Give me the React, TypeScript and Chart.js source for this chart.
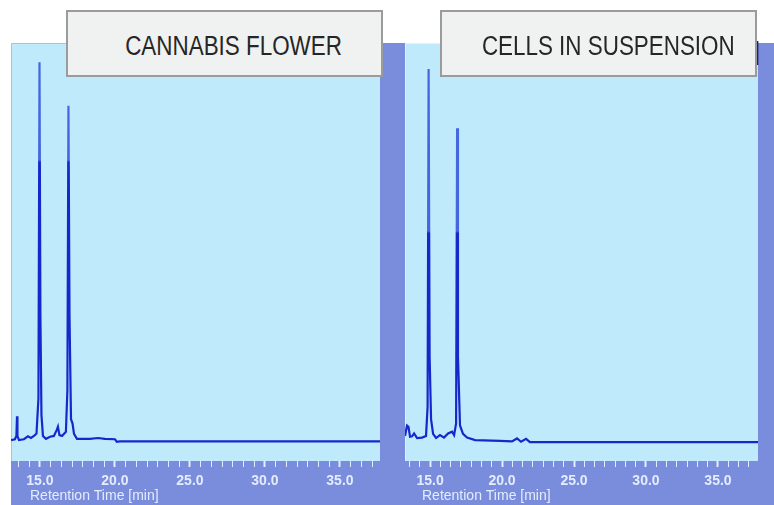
import React, { useEffect, useRef } from "react";
import { Chart, registerables } from "chart.js";
Chart.register(...registerables);

// ---- data (retention time in min, detector signal in arbitrary units) ----
const flowerTimes = [13.07, 13.33, 13.43, 13.47, 13.5, 13.6, 13.93, 14.2, 14.4, 14.6, 14.77, 14.9, 14.97, 15.03, 15.1, 15.2, 15.4, 15.67, 15.93, 16.13, 16.2, 16.3, 16.47, 16.73, 16.83, 16.9, 16.97, 17.07, 17.17, 17.27, 17.47, 18.33, 18.87, 19.33, 20.0, 20.13, 20.33, 37.67];
const flowerSignal = [0, 0.2, 1, 5.7, 1, 0, 0.2, 0.9, 0.5, 1.0, 1.6, 10, 90.4, 30, 6, 1, 0.3, 0.8, 1.0, 2.5, 3.2, 1.2, 1.0, 2, 12, 80, 30, 5, 4, 1.5, 0.3, 0.3, 0.5, 0.3, 0.2, -0.4, -0.3, -0.3];

const cellsTimes = [13.26, 13.4, 13.5, 13.61, 13.75, 13.89, 14.1, 14.44, 14.72, 14.83, 14.9, 14.97, 15.07, 15.21, 15.42, 15.69, 15.97, 16.25, 16.53, 16.67, 16.81, 16.88, 16.94, 17.08, 17.29, 17.57, 18.13, 19.86, 20.69, 21.04, 21.32, 21.67, 21.94, 37.78];
const cellsSignal = [1.0, 3.5, 3.2, 0.8, 0.9, 1.6, 0.5, 0.6, 1.0, 8, 88.8, 20, 5, 1.5, 0.5, 1.2, 0.6, 1.6, 2.0, 1.2, 4, 74.6, 20, 3.5, 1.5, 0.6, 0, -0.2, -0.3, 0.4, -0.4, 0.3, -0.5, -0.5];

const xTickValues = [15, 20, 25, 30, 35];
const xTickLabels = ["15.0", "20.0", "25.0", "30.0", "35.0"];
const minorPerMajor = 6;
const panelTitles = ["CANNABIS FLOWER", "CELLS IN SUSPENSION"];
const axisTitle = "Retention Time [min]";

const BAND = "#7a8ddc";
const PLOT = "#bfeafb";
const LINE = "#1428cc";
const LINE_TOP = "#4466e0";
const LABEL = "#e4ecff";

function buildTicks(min: number, max: number) {
  const step = (xTickValues[1] - xTickValues[0]) / (minorPerMajor + 1);
  const start = xTickValues[0];
  const n = minorPerMajor + 1;
  const ticks: any[] = [];
  for (let k = Math.ceil((min - start) / step - 1e-9); start + k * step <= max + 1e-9; k++) {
    const v = start + k * step;
    ticks.push({ value: v, major: ((k % n) + n) % n === 0 });
  }
  return ticks;
}

const panelPlugin = {
  id: "panelBg",
  beforeDraw(chart: any, _args: any, opts: any) {
    const { ctx, width, height, chartArea: a } = chart;
    ctx.save();
    ctx.fillStyle = BAND;
    ctx.fillRect(0, 0, width, height);
    ctx.fillStyle = PLOT;
    ctx.fillRect(a.left, a.top, a.right - a.left, a.bottom - a.top);
    ctx.strokeStyle = opts.edge;
    ctx.lineWidth = 1;
    ctx.beginPath();
    ctx.moveTo(a.left + 0.5, a.bottom);
    ctx.lineTo(a.left + 0.5, a.top + 0.5);
    ctx.lineTo(a.right, a.top + 0.5);
    ctx.stroke();
    ctx.restore();
  },
  afterDraw(chart: any, _args: any, opts: any) {
    const { ctx, chartArea: a } = chart;
    ctx.save();
    ctx.fillStyle = LABEL;
    ctx.font = '14px "Liberation Sans", Arial, sans-serif';
    ctx.textAlign = "left";
    ctx.textBaseline = "alphabetic";
    ctx.fillText(axisTitle, a.left + opts.titleOffset, a.bottom + 39);
    ctx.restore();
  },
};

type PanelProps = {
  times: number[];
  signal: number[];
  xMin: number;
  xMax: number;
  left: number;
  width: number;
  padLeft: number;
  padRight: number;
  titleOffset: number;
  edge: string;
  fadeAbove: number;
};

function Panel(p: PanelProps) {
  const ref = useRef<HTMLCanvasElement | null>(null);
  useEffect(() => {
    if (!ref.current) return;
    const chart = new Chart(ref.current, {
      type: "line",
      data: {
        datasets: [
          {
            data: p.times.map((t, i) => ({ x: t, y: p.signal[i] })),
            borderColor: (c: any) => {
              const ch = c.chart;
              const ys = ch.scales && ch.scales.y;
              if (!ch.chartArea || !ys) return LINE;
              const g = ch.ctx.createLinearGradient(0, ch.chartArea.top, 0, ch.chartArea.bottom);
              const yPix = ys.getPixelForValue(p.fadeAbove);
              const f = Math.min(0.99, Math.max(0.01, (yPix - ch.chartArea.top) / (ch.chartArea.bottom - ch.chartArea.top)));
              g.addColorStop(0, LINE_TOP);
              g.addColorStop(f, LINE_TOP);
              g.addColorStop(Math.min(1, f + 0.005), LINE);
              g.addColorStop(1, LINE);
              return g;
            },
            borderWidth: 2.2,
            pointRadius: 0,
            tension: 0,
            fill: false,
          },
        ],
      },
      options: {
        animation: false,
        responsive: false,
        devicePixelRatio: 1,
        layout: { padding: { left: p.padLeft, right: p.padRight, top: 0, bottom: 0 } },
        plugins: {
          legend: { display: false },
          tooltip: { enabled: false },
          panelBg: { titleOffset: p.titleOffset, edge: p.edge },
        } as any,
        scales: {
          x: {
            type: "linear",
            min: p.xMin,
            max: p.xMax,
            border: { display: false },
            grid: {
              drawOnChartArea: false,
              drawTicks: true,
              tickLength: 6,
              tickColor: LABEL,
              tickWidth: (ctx: any) => (ctx.tick && ctx.tick.major ? 2 : 1),
            },
            ticks: {
              autoSkip: false,
              maxRotation: 0,
              padding: 6,
              color: LABEL,
              font: { family: '"Liberation Sans", Arial, sans-serif', size: 14, weight: "bold" },
              callback: (value: any) => {
                const i = xTickValues.findIndex((t) => Math.abs(t - Number(value)) < 1e-6);
                return i >= 0 ? xTickLabels[i] : "";
              },
            },
            afterBuildTicks: (scale: any) => {
              scale.ticks = buildTicks(scale.min, scale.max);
            },
            afterFit: (scale: any) => {
              scale.height = 44;
            },
          },
          y: {
            display: false,
            min: -5,
            max: 95,
          },
        },
      } as any,
      plugins: [panelPlugin as any],
    });
    return () => chart.destroy();
  }, []);
  return (
    <canvas
      ref={ref}
      width={p.width}
      height={462}
      style={{ position: "absolute", left: p.left, top: 43, width: p.width, height: 462 }}
    />
  );
}

const boxStyle: React.CSSProperties = {
  position: "absolute",
  top: 10,
  height: 63,
  background: "#f0f1f1",
  border: "2px solid #9b9b9b",
  display: "flex",
  alignItems: "center",
  justifyContent: "center",
  fontFamily: '"Liberation Sans", Arial, sans-serif',
  fontSize: 27,
  color: "#262626",
  whiteSpace: "nowrap",
  boxSizing: "content-box",
};

export default function App() {
  return (
    <div
      style={{
        position: "fixed",
        left: 0,
        top: 0,
        width: 774,
        height: 505,
        background: "#ffffff",
        overflow: "hidden",
      }}
    >
      <Panel
        times={flowerTimes}
        signal={flowerSignal}
        xMin={13.07}
        xMax={37.67}
        left={11}
        width={374}
        padLeft={0}
        padRight={5}
        titleOffset={19}
        edge="#a6c2e2"
        fadeAbove={67}
      />
      <Panel
        times={cellsTimes}
        signal={cellsSignal}
        xMin={13.26}
        xMax={37.78}
        left={385}
        width={389}
        padLeft={20}
        padRight={16}
        titleOffset={17}
        edge="#dcf4fd"
        fadeAbove={50}
      />
      <span
        style={{
          position: "absolute",
          left: 753,
          top: 36,
          fontFamily: '"Liberation Sans", Arial, sans-serif',
          fontSize: 26,
          color: "#1c2370",
        }}
      >
        ]
      </span>
      <div style={{ ...boxStyle, left: 66, width: 313 }}>
        <span style={{ display: "inline-block", transform: "scaleX(0.83)", marginLeft: 19, marginTop: 6 }}>
          {panelTitles[0]}
        </span>
      </div>
      <div style={{ ...boxStyle, left: 440, width: 313 }}>
        <span style={{ display: "inline-block", transform: "scaleX(0.83)", marginLeft: 20, marginTop: 6 }}>
          {panelTitles[1]}
        </span>
      </div>
    </div>
  );
}
